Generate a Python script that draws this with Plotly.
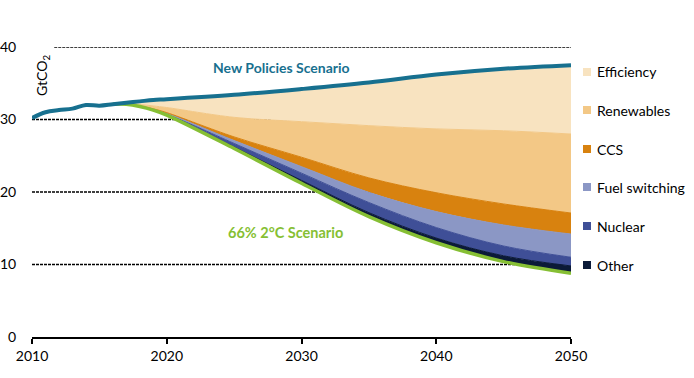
import numpy as np
import plotly.graph_objects as go

# ---- data ----
years_hist = [2010, 2011, 2012, 2013, 2014, 2015, 2016, 2017, 2018, 2019, 2020,
              2025, 2030, 2035, 2040, 2045, 2050]
new_policies = [30.2, 31.0, 31.3, 31.5, 32.0, 31.9, 32.1, 32.3, 32.5, 32.7, 32.8,
                33.4, 34.2, 35.1, 36.2, 37.0, 37.5]

years_s = [2016, 2017, 2018, 2019, 2020, 2025, 2030, 2035, 2040, 2045, 2050]
two_deg = [32.1, 32.1, 31.8, 31.3, 30.6, 26.0, 21.2, 16.6, 13.0, 10.4, 8.8]
other = [0.0, 0.0, 0.01, 0.02, 0.05, 0.2, 0.4, 0.55, 0.65, 0.8, 1.0]
nuclear = [0.0, 0.0, 0.02, 0.05, 0.1, 0.5, 1.0, 1.4, 1.45, 1.35, 1.2]
fuel_switching = [0.0, 0.0, 0.02, 0.05, 0.1, 0.4, 0.9, 1.4, 2.2, 2.9, 3.2]
ccs = [0.0, 0.0, 0.02, 0.05, 0.1, 0.5, 1.3, 2.0, 2.6, 2.9, 2.9]
renewables = [0.0, 0.05, 0.2, 0.4, 0.7, 2.7, 4.9, 7.2, 8.8, 10.1, 10.9]
# Efficiency fills the remaining gap up to the New Policies Scenario line

categories = ["Efficiency", "Renewables", "CCS", "Fuel switching", "Nuclear", "Other"]
colors = {"Efficiency": "#f8e3c0", "Renewables": "#f3c886", "CCS": "#d8820f",
          "Fuel switching": "#8b97c5", "Nuclear": "#3f4f97", "Other": "#0b1a38"}
x_ticks = [2010, 2020, 2030, 2040, 2050]
y_ticks = [0, 10, 20, 30, 40]

NPS_COLOR = "#17708f"
GREEN = "#86bf34"
FONT = "Lato"

fig = go.Figure()

fig.add_trace(go.Scatter(x=years_s, y=two_deg, mode="lines",
                         line=dict(width=0, shape="spline", color="rgba(0,0,0,0)"),
                         showlegend=False, hoverinfo="skip"))
cum = np.array(two_deg, dtype=float)
for name, vals in [("Other", other), ("Nuclear", nuclear),
                   ("Fuel switching", fuel_switching), ("CCS", ccs),
                   ("Renewables", renewables)]:
    cum = cum + np.array(vals)
    fig.add_trace(go.Scatter(x=years_s, y=cum.tolist(), mode="lines",
                             line=dict(width=1, shape="spline", color=colors[name]),
                             fill="tonexty", fillcolor=colors[name],
                             showlegend=False, name=name))
nps_sub = [v for yv, v in zip(years_hist, new_policies) if yv >= 2016]
yrs_sub = [yv for yv in years_hist if yv >= 2016]
fig.add_trace(go.Scatter(x=yrs_sub, y=nps_sub, mode="lines",
                         line=dict(width=1, shape="spline", color=colors["Efficiency"]),
                         fill="tonexty", fillcolor=colors["Efficiency"],
                         showlegend=False, name="Efficiency"))

fig.add_trace(go.Scatter(x=years_s, y=two_deg, mode="lines",
                         line=dict(width=3.5, shape="spline", color=GREEN),
                         showlegend=False, name="66% 2°C Scenario"))
fig.add_trace(go.Scatter(x=years_hist, y=new_policies, mode="lines",
                         line=dict(width=4, shape="spline", color=NPS_COLOR),
                         showlegend=False, name="New Policies Scenario"))

# geometry in page pixels (body margin removed below)
W, H = 694, 378
L, T = 32, 47
R = W - 571
B = H - 337
pw = W - L - R
ph = H - T - B

def px_x(px):
    return (px - L) / pw

def px_y(py):
    return (H - B - py) / ph

shapes = []
for yv in y_ticks[1:]:
    x0 = 2010 if yv != 40 else 2011.65
    shapes.append(dict(type="line", xref="x", yref="y", x0=x0, x1=2050, y0=yv, y1=yv,
                       line=dict(color="black", width=1.6, dash="3px,1px"), layer="below"))

legend_y = [72, 110, 149, 187, 226, 265]
annotations = []
for name, py in zip(categories, legend_y):
    shapes.append(dict(type="rect", xref="paper", yref="paper",
                       x0=px_x(583), x1=px_x(591),
                       y0=px_y(py + 4), y1=px_y(py - 4),
                       fillcolor=colors[name], line=dict(width=0)))
    annotations.append(dict(xref="paper", yref="paper", x=px_x(595),
                            y=px_y(py), text=name, showarrow=False,
                            xanchor="left", yanchor="middle",
                            font=dict(family=FONT, size=14, color="black")))

annotations.append(dict(xref="paper", yref="paper", x=px_x(281),
                        y=px_y(67), text="<b>New Policies Scenario</b>",
                        showarrow=False, xanchor="center", yanchor="middle",
                        font=dict(family=FONT, size=14, color=NPS_COLOR)))
annotations.append(dict(xref="paper", yref="paper", x=px_x(285),
                        y=px_y(232), text="<b>66% 2°C Scenario</b>",
                        showarrow=False, xanchor="center", yanchor="middle",
                        font=dict(family=FONT, size=14.5, color=GREEN)))
annotations.append(dict(xref="paper", yref="paper", x=px_x(42),
                        y=px_y(76), text="GtCO<sub>2</sub>",
                        showarrow=False, textangle=-90, xanchor="center", yanchor="middle",
                        font=dict(family=FONT, size=14, color="black")))

fig.update_layout(
    width=W, height=H,
    margin=dict(l=L, r=R, t=T, b=B, pad=0, autoexpand=False),
    paper_bgcolor="white", plot_bgcolor="white",
    shapes=shapes, annotations=annotations,
    showlegend=False,
    xaxis=dict(range=[2010, 2050], tickvals=x_ticks, ticktext=[str(v) for v in x_ticks],
               showgrid=False, zeroline=False, showline=True, linecolor="black",
               linewidth=2, ticks="outside", ticklen=5, tickwidth=2, tickcolor="black",
               automargin=False,
               tickfont=dict(family=FONT, size=14, color="black"), fixedrange=True),
    yaxis=dict(range=[0, 40], tickvals=y_ticks, ticktext=[str(v) for v in y_ticks],
               showgrid=False, zeroline=False, showline=False,
               ticks="outside", ticklen=12, tickcolor="rgba(0,0,0,0)",
               automargin=False,
               tickfont=dict(family=FONT, size=14, color="black"), fixedrange=True),
)

fig.write_html("out.html", config={"displayModeBar": False},
               post_script="document.body.style.margin='0';document.body.style.overflow='hidden';")
